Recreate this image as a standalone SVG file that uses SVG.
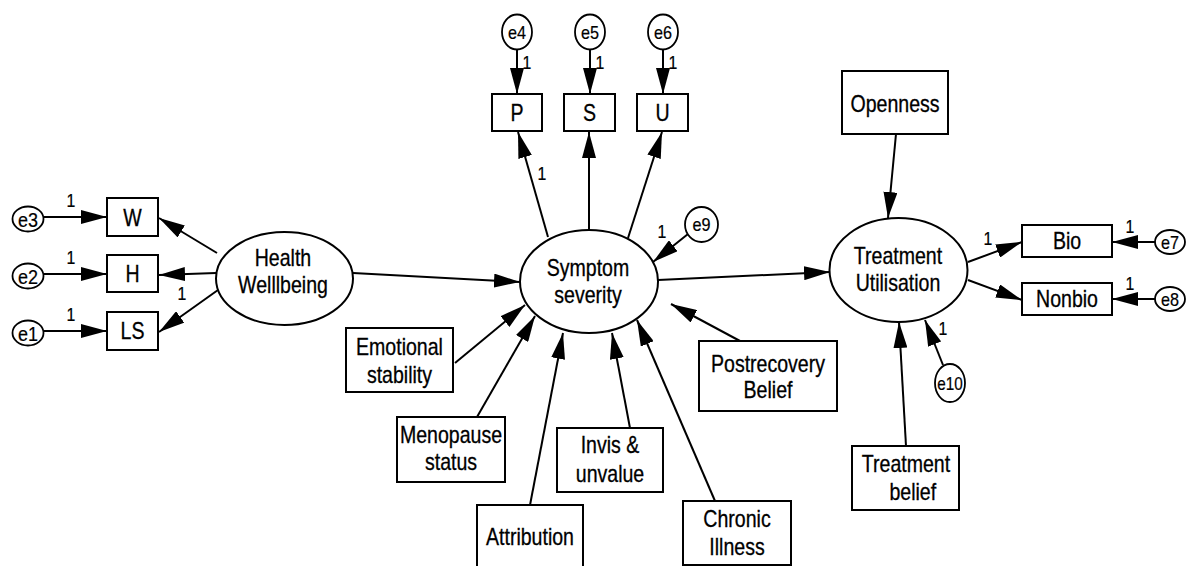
<svg xmlns="http://www.w3.org/2000/svg" width="1188" height="566" viewBox="0 0 1188 566">
  <style>
    .box { fill: #fff; stroke: #000; stroke-width: 2; }
    .lat { fill: #fff; stroke: #000; stroke-width: 2; }
    .err { fill: #fff; stroke: #000; stroke-width: 1.8; }
    .lbl { font-family: "Liberation Sans", Arial, sans-serif; font-size: 23px; fill: #000; stroke: #000; stroke-width: 0.3; text-anchor: middle; }
    .elb { font-family: "Liberation Sans", Arial, sans-serif; font-size: 18px; fill: #000; stroke: #000; stroke-width: 0.2; text-anchor: middle; }
    .elb.big { font-size: 20px; }
    .one { font-family: "Liberation Sans", Arial, sans-serif; font-size: 18px; fill: #000; stroke: #000; stroke-width: 0.2; text-anchor: middle; }
    .edge { fill: none; stroke: #000; stroke-width: 2; marker-end: url(#head); }
  </style>
  <defs>
    <marker id="head" viewBox="0 0 26 14" refX="26" refY="7" markerWidth="26" markerHeight="14" markerUnits="userSpaceOnUse" orient="auto">
      <path d="M0,0 L26,7 L0,14 z" fill="#000"/>
    </marker>
  </defs>
  <rect width="1188" height="566" fill="#fff"/>

  <!-- paths -->
  <g id="connectors">
    <line class="edge" x1="44" y1="217" x2="107" y2="217"/>
    <line class="edge" x1="44" y1="274" x2="107" y2="274"/>
    <line class="edge" x1="44" y1="331" x2="107" y2="331"/>
    <line class="edge" x1="217" y1="253" x2="159" y2="218"/>
    <line class="edge" x1="216" y1="273" x2="159" y2="275"/>
    <line class="edge" x1="218" y1="290" x2="159" y2="332"/>
    <line class="edge" x1="517" y1="49" x2="517" y2="94"/>
    <line class="edge" x1="590" y1="49" x2="590" y2="94"/>
    <line class="edge" x1="663" y1="49" x2="663" y2="94"/>
    <line class="edge" x1="548" y1="237" x2="518" y2="132"/>
    <line class="edge" x1="589" y1="230" x2="589" y2="132"/>
    <line class="edge" x1="628" y1="238" x2="662" y2="132"/>
    <line class="edge" x1="688" y1="234" x2="653" y2="262"/>
    <line class="edge" x1="353" y1="273" x2="520" y2="282"/>
    <line class="edge" x1="658" y1="280" x2="830" y2="272"/>
    <line class="edge" x1="455" y1="363" x2="525" y2="305"/>
    <line class="edge" x1="477" y1="417" x2="535" y2="316"/>
    <line class="edge" x1="530" y1="505" x2="563" y2="333"/>
    <line class="edge" x1="630" y1="428" x2="612" y2="333"/>
    <line class="edge" x1="715" y1="501" x2="637" y2="320"/>
    <line class="edge" x1="740" y1="341" x2="671" y2="304"/>
    <line class="edge" x1="896" y1="134" x2="888" y2="218"/>
    <line class="edge" x1="906" y1="446" x2="899" y2="322"/>
    <line class="edge" x1="943" y1="365" x2="925" y2="320"/>
    <line class="edge" x1="968" y1="262" x2="1022" y2="242"/>
    <line class="edge" x1="968" y1="280" x2="1022" y2="300"/>
    <line class="edge" x1="1155" y1="242" x2="1112" y2="242"/>
    <line class="edge" x1="1155" y1="299" x2="1112" y2="299"/>
    <!-- fixed loadings -->
    <text class="one" transform="translate(71 207) scale(.88 1)">1</text>
    <text class="one" transform="translate(71 264) scale(.88 1)">1</text>
    <text class="one" transform="translate(71 321) scale(.88 1)">1</text>
    <text class="one" transform="translate(182 300) scale(.88 1)">1</text>
    <text class="one" transform="translate(527 69) scale(.88 1)">1</text>
    <text class="one" transform="translate(600 69) scale(.88 1)">1</text>
    <text class="one" transform="translate(673 69) scale(.88 1)">1</text>
    <text class="one" transform="translate(542 180) scale(.88 1)">1</text>
    <text class="one" transform="translate(662 238) scale(.88 1)">1</text>
    <text class="one" transform="translate(988 245) scale(.88 1)">1</text>
    <text class="one" transform="translate(1130 233) scale(.88 1)">1</text>
    <text class="one" transform="translate(1130 290) scale(.88 1)">1</text>
    <text class="one" transform="translate(943 335) scale(.88 1)">1</text>
  </g>

  <!-- Health Wellbeing measurement -->
  <g id="e3"><ellipse class="err" cx="28" cy="219" rx="15.5" ry="12.5"/><text class="elb big" transform="translate(28 226.5) scale(.9 1)">e3</text></g>
  <g id="e2"><ellipse class="err" cx="28" cy="276" rx="15.5" ry="12.5"/><text class="elb big" transform="translate(28 283.5) scale(.9 1)">e2</text></g>
  <g id="e1"><ellipse class="err" cx="28" cy="333" rx="15.5" ry="12.5"/><text class="elb big" transform="translate(28 340.5) scale(.9 1)">e1</text></g>
  <g id="W"><rect class="box" x="107" y="198" width="51" height="38"/><text class="lbl" transform="translate(132.5 226) scale(.85 1)">W</text></g>
  <g id="H"><rect class="box" x="107" y="255" width="51" height="37"/><text class="lbl" transform="translate(132.5 282) scale(.85 1)">H</text></g>
  <g id="LS"><rect class="box" x="107" y="312" width="51" height="38"/><text class="lbl" transform="translate(132.5 339) scale(.85 1)">LS</text></g>
  <g id="health-wellbeing">
    <ellipse class="lat" cx="284.5" cy="278.5" rx="68.5" ry="46.5"/>
    <text class="lbl" transform="translate(283 266) scale(.85 1)"><tspan x="0" y="0">Health</tspan><tspan x="0" y="27">Welllbeing</tspan></text>
  </g>

  <!-- Symptom severity indicators -->
  <g id="e4"><ellipse class="err" cx="517" cy="32" rx="15" ry="17.5"/><text class="elb" transform="translate(517 38.5) scale(.9 1)">e4</text></g>
  <g id="e5"><ellipse class="err" cx="590" cy="32" rx="15" ry="17.5"/><text class="elb" transform="translate(590 38.5) scale(.9 1)">e5</text></g>
  <g id="e6"><ellipse class="err" cx="663" cy="32" rx="15" ry="17.5"/><text class="elb" transform="translate(663 38.5) scale(.9 1)">e6</text></g>
  <g id="P"><rect class="box" x="492" y="94" width="50" height="37"/><text class="lbl" transform="translate(517 121) scale(.85 1)">P</text></g>
  <g id="S"><rect class="box" x="564" y="94" width="51" height="37"/><text class="lbl" transform="translate(589.5 121) scale(.85 1)">S</text></g>
  <g id="U"><rect class="box" x="637" y="94" width="51" height="37"/><text class="lbl" transform="translate(662.5 121) scale(.85 1)">U</text></g>
  <g id="e9"><ellipse class="err" cx="701.5" cy="224.5" rx="16.5" ry="17.5"/><text class="elb" transform="translate(701.5 231) scale(.9 1)">e9</text></g>
  <g id="symptom-severity">
    <ellipse class="lat" cx="589" cy="281.5" rx="69" ry="51.5"/>
    <text class="lbl" transform="translate(588 276) scale(.85 1)"><tspan x="0" y="0">Symptom</tspan><tspan x="0" y="27">severity</tspan></text>
  </g>

  <!-- predictors of symptom severity -->
  <g id="emotional-stability"><rect class="box" x="346" y="328" width="107" height="64"/><text class="lbl" transform="translate(399.5 355) scale(.85 1)"><tspan x="0" y="0">Emotional</tspan><tspan x="0" y="28">stability</tspan></text></g>
  <g id="menopause-status"><rect class="box" x="397" y="417" width="108" height="65"/><text class="lbl" transform="translate(451 443) scale(.85 1)"><tspan x="0" y="0">Menopause</tspan><tspan x="0" y="27">status</tspan></text></g>
  <g id="attribution"><rect class="box" x="477" y="505" width="106" height="70"/><text class="lbl" transform="translate(530 545) scale(.85 1)">Attribution</text></g>
  <g id="invis-unvalue"><rect class="box" x="557" y="428" width="106" height="64"/><text class="lbl" transform="translate(610 453) scale(.85 1)"><tspan x="0" y="0">Invis &amp;</tspan><tspan x="0" y="29">unvalue</tspan></text></g>
  <g id="chronic-illness"><rect class="box" x="683" y="501" width="108" height="64"/><text class="lbl" transform="translate(737 527) scale(.85 1)"><tspan x="0" y="0">Chronic</tspan><tspan x="0" y="28">Illness</tspan></text></g>
  <g id="postrecovery-belief"><rect class="box" x="699" y="341" width="138" height="70"/><text class="lbl" transform="translate(768 372) scale(.85 1)"><tspan x="0" y="0">Postrecovery</tspan><tspan x="0" y="26">Belief</tspan></text></g>

  <!-- Treatment utilisation -->
  <g id="openness"><rect class="box" x="842" y="71" width="106" height="63"/><text class="lbl" transform="translate(895 112) scale(.85 1)">Openness</text></g>
  <g id="treatment-utilisation">
    <ellipse class="lat" cx="898.5" cy="270" rx="69" ry="52"/>
    <text class="lbl" transform="translate(898 264) scale(.85 1)"><tspan x="0" y="0">Treatment</tspan><tspan x="0" y="27">Utilisation</tspan></text>
  </g>
  <g id="Bio"><rect class="box" x="1022" y="225" width="90" height="32"/><text class="lbl" transform="translate(1067 249) scale(.85 1)">Bio</text></g>
  <g id="Nonbio"><rect class="box" x="1022" y="283" width="90" height="32"/><text class="lbl" transform="translate(1067 307) scale(.85 1)">Nonbio</text></g>
  <g id="e7"><ellipse class="err" cx="1170" cy="242" rx="15" ry="12"/><text class="elb" transform="translate(1170 248.5) scale(.9 1)">e7</text></g>
  <g id="e8"><ellipse class="err" cx="1170" cy="299" rx="15" ry="12"/><text class="elb" transform="translate(1170 305.5) scale(.9 1)">e8</text></g>
  <g id="e10"><ellipse class="err" cx="950" cy="383" rx="15" ry="19"/><text class="elb" transform="translate(950 389.5) scale(.85 1)">e10</text></g>
  <g id="treatment-belief"><rect class="box" x="852" y="446" width="107" height="64"/><text class="lbl" transform="translate(906 472) scale(.85 1)"><tspan x="0" y="0">Treatment</tspan><tspan x="8" y="28">belief</tspan></text></g>
</svg>
